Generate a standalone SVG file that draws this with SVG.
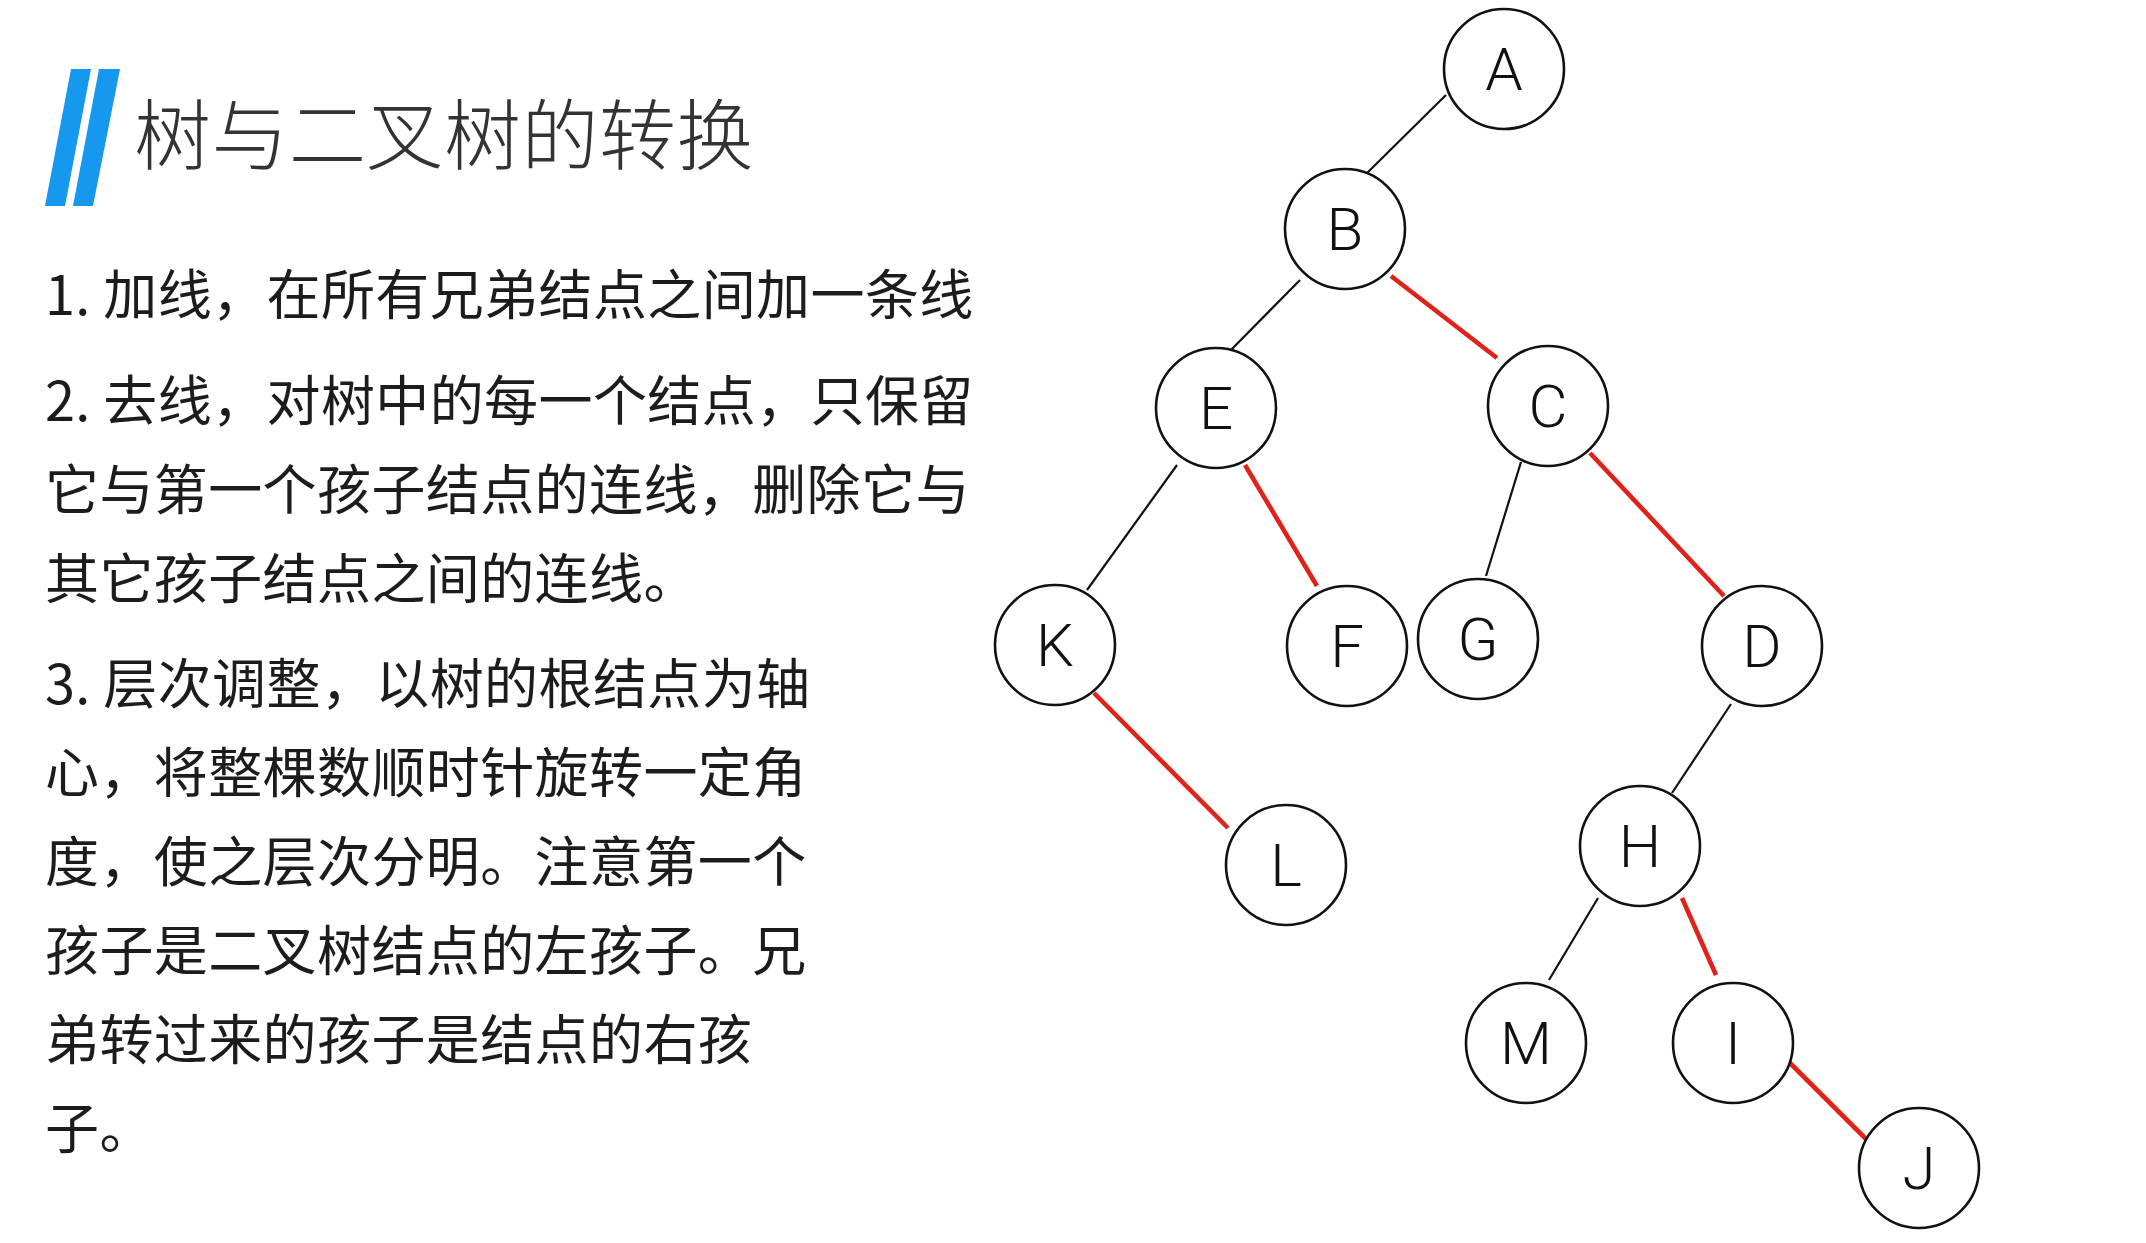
<svg xmlns="http://www.w3.org/2000/svg" width="2146" height="1243" viewBox="0 0 2146 1243">
<style>
.bar{fill:#1598ee}
.title{font-family:"Noto Sans CJK SC","Noto Sans",sans-serif;font-size:77px;font-weight:300;fill:#333;letter-spacing:0.5px}
.body{font-family:"Noto Sans CJK SC","Noto Sans",sans-serif;font-size:54px;font-weight:400;fill:#1c1c1c;letter-spacing:0.4px}
.node circle{fill:#fff;stroke:#111;stroke-width:2.6}
.node text{font-family:Roboto,"Liberation Sans",Arial,sans-serif;font-size:60px;font-weight:300;fill:#111;text-anchor:middle}
.blk{stroke:#111;stroke-width:2.2;fill:none}
.red{stroke:#e0221b;stroke-width:4.6;fill:none}
</style>
<rect width="2146" height="1243" fill="#fff"/>
<g id="header">
<polygon class="bar" points="71,69 91,69 65,206 45,206"/>
<polygon class="bar" points="99,69 120,69 93,206 73,206"/>
<text class="title" x="134" y="164">树与二叉树的转换</text>
</g>
<g id="description">
<text class="body" x="45" y="315">1. 加线，在所有兄弟结点之间加一条线</text>
<text class="body" x="45" y="421">2. 去线，对树中的每一个结点，只保留</text>
<text class="body" x="45" y="510">它与第一个孩子结点的连线，删除它与</text>
<text class="body" x="45" y="599">其它孩子结点之间的连线。</text>
<text class="body" x="45" y="704">3. 层次调整，以树的根结点为轴</text>
<text class="body" x="45" y="793">心，将整棵数顺时针旋转一定角</text>
<text class="body" x="45" y="882">度，使之层次分明。注意第一个</text>
<text class="body" x="45" y="971">孩子是二叉树结点的左孩子。兄</text>
<text class="body" x="45" y="1060">弟转过来的孩子是结点的右孩</text>
<text class="body" x="45" y="1149">子。</text>
</g>
<g id="connectors">
<line class="blk" x1="1446" y1="95" x2="1364" y2="176"/>
<line class="blk" x1="1300" y1="280" x2="1227" y2="354"/>
<line class="red" x1="1391" y1="276" x2="1497" y2="358"/>
<line class="blk" x1="1177" y1="465" x2="1087" y2="590"/>
<line class="red" x1="1245" y1="465" x2="1317" y2="586"/>
<line class="blk" x1="1521" y1="462" x2="1486" y2="576"/>
<line class="red" x1="1590" y1="453" x2="1724" y2="596"/>
<line class="red" x1="1094" y1="693" x2="1228" y2="828"/>
<line class="blk" x1="1731" y1="704" x2="1672" y2="793"/>
<line class="blk" x1="1598" y1="898" x2="1549" y2="980"/>
<line class="red" x1="1682" y1="898" x2="1716" y2="975"/>
<line class="red" x1="1789" y1="1062" x2="1869" y2="1142"/>
</g>
<g id="node-A" class="node"><circle cx="1504" cy="69" r="60"/><text x="1504" y="90">A</text></g>
<g id="node-B" class="node"><circle cx="1345" cy="229" r="60"/><text x="1345" y="250">B</text></g>
<g id="node-E" class="node"><circle cx="1216" cy="408" r="60"/><text x="1216" y="429">E</text></g>
<g id="node-C" class="node"><circle cx="1548" cy="406" r="60"/><text x="1548" y="427">C</text></g>
<g id="node-K" class="node"><circle cx="1055" cy="645" r="60"/><text x="1055" y="666">K</text></g>
<g id="node-F" class="node"><circle cx="1347" cy="646" r="60"/><text x="1347" y="667">F</text></g>
<g id="node-G" class="node"><circle cx="1478" cy="639" r="60"/><text x="1478" y="660">G</text></g>
<g id="node-D" class="node"><circle cx="1762" cy="646" r="60"/><text x="1762" y="667">D</text></g>
<g id="node-L" class="node"><circle cx="1286" cy="865" r="60"/><text x="1286" y="886">L</text></g>
<g id="node-H" class="node"><circle cx="1640" cy="846" r="60"/><text x="1640" y="867">H</text></g>
<g id="node-M" class="node"><circle cx="1526" cy="1043" r="60"/><text x="1526" y="1064">M</text></g>
<g id="node-I" class="node"><circle cx="1733" cy="1043" r="60"/><text x="1733" y="1064">I</text></g>
<g id="node-J" class="node"><circle cx="1919" cy="1168" r="60"/><text x="1919" y="1189">J</text></g>
</svg>
